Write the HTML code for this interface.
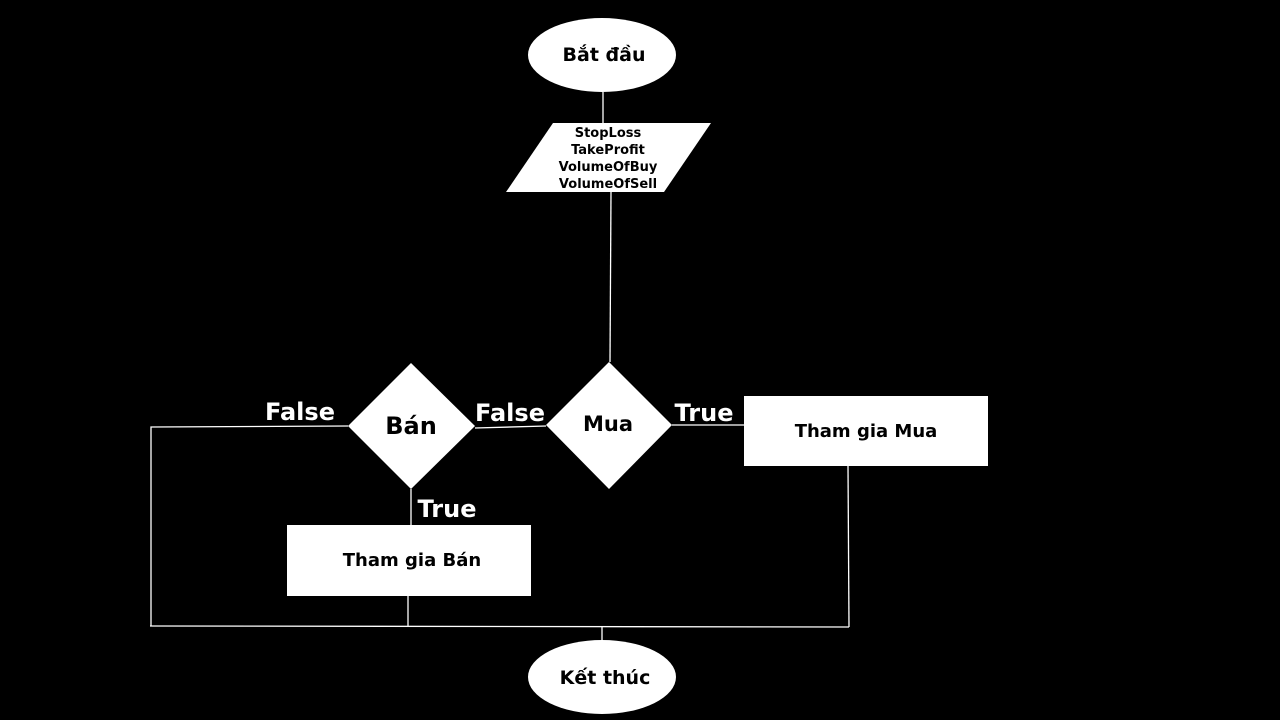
<!DOCTYPE html>
<html><head><meta charset="utf-8"><style>
html,body{margin:0;padding:0;background:#000;}
svg{display:block;}
text{font-family:"DejaVu Sans","Liberation Sans",sans-serif;font-weight:bold;}
</style></head><body>
<svg width="1280" height="720" viewBox="0 0 1280 720" xmlns="http://www.w3.org/2000/svg">
<rect width="1280" height="720" fill="#000"/>
<g stroke="#fff" stroke-width="1.3" fill="none">
<line x1="603" y1="92" x2="603" y2="123"/>
<line x1="611" y1="192" x2="610" y2="362"/>
<line x1="475" y1="428" x2="546" y2="426"/>
<line x1="672" y1="425" x2="744" y2="425"/>
<polyline points="848,466 849,627"/>
<polyline points="348,426 151,427 151,626"/>
<line x1="411" y1="489" x2="411" y2="525"/>
<line x1="408" y1="596" x2="408" y2="626"/>
<line x1="150" y1="626" x2="849" y2="627"/>
<line x1="602" y1="627" x2="602" y2="641"/>
</g>
<g fill="#fff">
<ellipse cx="602" cy="55" rx="74" ry="37"/>
<polygon points="553,123 711,123 664,192 506,192"/>
<polygon points="609,362 672,425 609,489 546,425"/>
<polygon points="411,363 475,426 411,489 348,426"/>
<rect x="744" y="396" width="244" height="70"/>
<rect x="287" y="525" width="244" height="71"/>
<ellipse cx="602" cy="677" rx="74" ry="37"/>
</g>
<g fill="#000" text-anchor="middle">
<text x="604" y="61" font-size="19">Bắt đầu</text>
<text x="608" y="137" font-size="13">StopLoss</text>
<text x="608" y="154" font-size="13">TakeProfit</text>
<text x="608" y="171" font-size="13">VolumeOfBuy</text>
<text x="608" y="188" font-size="13">VolumeOfSell</text>
<text x="608" y="431" font-size="21">Mua</text>
<text x="411" y="434" font-size="24">Bán</text>
<text x="866" y="437" font-size="18">Tham gia Mua</text>
<text x="412" y="566" font-size="18">Tham gia Bán</text>
<text x="605" y="684" font-size="19">Kết thúc</text>
</g>
<g fill="#fff" text-anchor="middle" font-size="24">
<text x="300" y="420">False</text>
<text x="510" y="421">False</text>
<text x="704" y="421">True</text>
<text x="447" y="517">True</text>
</g>
</svg>
</body></html>
